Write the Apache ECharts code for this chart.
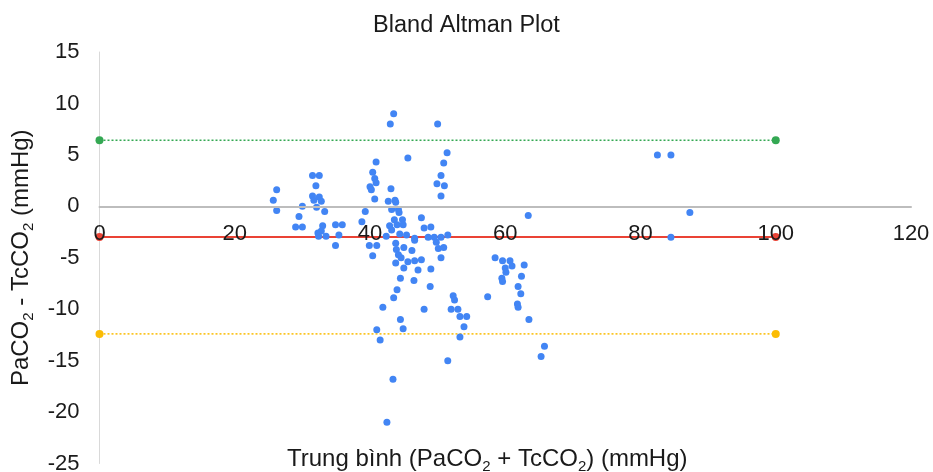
<!DOCTYPE html>
<html>
<head>
<meta charset="utf-8">
<title>Bland Altman Plot</title>
<script src="https://cdn.jsdelivr.net/npm/echarts@6/dist/echarts.min.js"></script>
<style>
  html, body { margin: 0; padding: 0; background: #fff; }
  #chart { width: 933px; height: 472px; }
</style>
</head>
<body>
<div id="chart"></div>
<script>
  // trung bình (PaCO2 + TcCO2) / 2
  var avgValues = [
    26.2, 25.7, 26.2, 30.0, 29.5, 29.0, 30.0, 31.5, 32.5, 32.0,
    31.5, 31.7, 32.5, 32.8, 32.1, 33.3, 33.0, 32.3, 32.8, 32.4,
    33.5, 34.9, 35.9, 35.4, 34.9, 40.9, 40.4, 40.7, 40.9, 40.0,
    40.2, 40.7, 39.3, 38.8, 39.9, 41.0, 40.4, 41.9, 41.0, 41.5,
    43.4, 42.5, 43.5, 43.0, 50.0, 51.4, 50.9, 50.5, 49.9, 51.0,
    50.5, 45.6, 43.1, 42.7, 43.7, 43.8, 43.2, 44.2, 44.3, 43.6,
    44.8, 42.9, 43.2, 44.0, 44.9, 47.6, 48.0, 49.0, 42.4, 44.4,
    45.4, 46.6, 46.6, 48.6, 49.5, 50.5, 51.5, 43.8, 45.0, 43.9,
    44.2, 44.6, 46.2, 45.6, 46.6, 47.6, 43.8, 45.0, 47.1, 49.0,
    49.8, 50.1, 50.9, 50.5, 44.5, 46.5, 44.0, 48.9, 43.5, 52.3,
    52.5, 44.5, 44.9, 48.0, 52.0, 53.0, 53.3, 54.3, 53.9, 53.3,
    51.5, 63.4, 58.5, 59.6, 60.7, 61.0, 60.0, 60.1, 62.8, 62.4,
    59.5, 59.6, 61.9, 62.3, 57.4, 61.8, 61.9, 63.5, 65.8, 65.3,
    82.5, 84.5, 87.3, 84.5
  ];
  // PaCO2 - TcCO2
  var diffValues = [
    1.6, 0.6, -0.4, 0.0, -1.0, -2.0, -2.0, 3.0, 3.0, 2.0,
    1.0, 0.6, 0.9, 0.5, -0.1, -0.5, -1.9, -2.6, -2.4, -2.9,
    -2.9, -1.8, -1.8, -2.8, -3.8, 4.3, 3.3, 2.7, 2.3, 1.9,
    1.6, 0.7, -0.5, -1.5, -3.8, -3.8, -4.8, -9.8, -12.0, -13.0,
    -16.8, -21.0, 9.0, 8.0, 8.0, 5.2, 4.2, 3.0, 2.2, 2.0,
    1.0, 4.7, 1.7, 0.5, 0.6, 0.4, -0.3, -0.3, -0.6, -1.3,
    -1.3, -1.9, -2.3, -1.8, -1.8, -1.1, -2.1, -2.0, -2.9, -2.7,
    -2.8, -3.1, -3.3, -3.0, -3.0, -3.0, -2.8, -3.6, -4.0, -4.2,
    -4.7, -5.0, -4.3, -5.4, -5.3, -5.2, -5.5, -6.0, -6.2, -6.1,
    -3.5, -4.1, -4.0, -5.0, -7.0, -7.2, -8.1, -7.8, -8.9, -8.7,
    -9.1, -11.0, -11.9, -10.0, -10.0, -10.0, -10.7, -10.7, -11.7, -12.7,
    -15.0, -0.9, -5.0, -5.3, -5.3, -5.8, -6.0, -6.4, -5.7, -6.8,
    -7.0, -7.3, -7.8, -8.5, -8.8, -9.5, -9.8, -11.0, -13.6, -14.6,
    5.0, 5.0, -0.6, -3.0
  ];
  // khoảng của các đường tham chiếu
  var refRange = [0, 100];
  var meanDiff = -2.99;
  var upperLoA = 6.42;
  var lowerLoA = -12.40;

  var xTicks = { min: 0, max: 120, interval: 20 };
  var yTicks = { min: -25, max: 15, interval: 5 };

  var fontFamily = 'Liberation Sans, Arial, sans-serif';
  var textColor = '#1a1a1a';
  var subStyle = {
    sub: { fontSize: 15, fontFamily: fontFamily, fontWeight: 'normal', color: textColor, lineHeight: 15, verticalAlign: 'bottom' },
    main: { fontSize: 24, fontFamily: fontFamily, fontWeight: 'normal', color: textColor, lineHeight: 30 }
  };

  var gridTop = 52;
  var gridBottom = 8.5;
  var plotHeight = 472 - gridTop - gridBottom;

  function refLine (value) {
    return refRange.map(function (x) { return [x, value] })
  }

  var points = avgValues.map(function (x, i) {
    return [x, diffValues[i]]
  });

  var chart = echarts.init(document.getElementById('chart'));
  var option = {
    backgroundColor: '#ffffff',
    animation: false,
    title: [{
      text: 'Bland Altman Plot',
      left: 'center',
      top: 9,
      textStyle: { fontFamily: fontFamily, fontSize: 23.5, fontWeight: 'normal', color: textColor }
    }, {
      text: '{main|Trung bình (PaCO}{sub|2}{main| + TcCO}{sub|2}{main|) (mmHg)}',
      left: 287,
      top: 444,
      padding: 0,
      textStyle: { fontWeight: 'normal', rich: subStyle }
    }],
    grid: {
      left: 99.5,
      right: 22,
      top: gridTop,
      bottom: gridBottom,
      outerBoundsMode: 'none'
    },
    xAxis: {
      type: 'value',
      min: xTicks.min,
      max: xTicks.max,
      interval: xTicks.interval,
      // trục hoành nằm ở y = 0
      offset: -plotHeight * (0 - yTicks.min) / (yTicks.max - yTicks.min),
      axisLine: { show: true, onZero: false, lineStyle: { color: '#bdbdbd', width: 2 } },
      axisTick: { show: false },
      splitLine: { show: false },
      axisLabel: { margin: 17, fontFamily: fontFamily, fontSize: 22, color: textColor },
      z: 5
    },
    yAxis: {
      type: 'value',
      min: yTicks.min,
      max: yTicks.max,
      interval: yTicks.interval,
      name: '{main|PaCO}{sub|2}{main| - TcCO}{sub|2}{main| (mmHg)}',
      nameLocation: 'middle',
      nameRotate: 90,
      nameGap: 63,
      nameTextStyle: { rich: subStyle },
      axisLine: { show: true, onZero: false, lineStyle: { color: '#d9d9d9', width: 1 } },
      axisTick: { show: false },
      splitLine: { show: false },
      axisLabel: { margin: 20, fontFamily: fontFamily, fontSize: 22, color: textColor }
    },
    series: [{
      name: 'Upper LoA',
      type: 'line',
      data: refLine(upperLoA),
      symbol: 'circle',
      symbolSize: 8,
      itemStyle: { color: '#34a853' },
      lineStyle: { color: '#34a853', width: 1.5, type: [2, 2] },
      z: 2
    }, {
      name: 'Mean',
      type: 'line',
      data: refLine(meanDiff),
      symbol: 'circle',
      symbolSize: 8,
      itemStyle: { color: '#ea4335' },
      lineStyle: { color: '#ea4335', width: 2 },
      z: 2
    }, {
      name: 'Lower LoA',
      type: 'line',
      data: refLine(lowerLoA),
      symbol: 'circle',
      symbolSize: 8,
      itemStyle: { color: '#fbbc04' },
      lineStyle: { color: '#fbbc04', width: 1.5, type: [2, 2] },
      z: 2
    }, {
      name: 'Difference',
      type: 'scatter',
      data: points,
      symbol: 'circle',
      symbolSize: 7,
      itemStyle: { color: '#4285f4', opacity: 1 },
      z: 3
    }]
  };
  chart.setOption(option);
</script>
</body>
</html>
